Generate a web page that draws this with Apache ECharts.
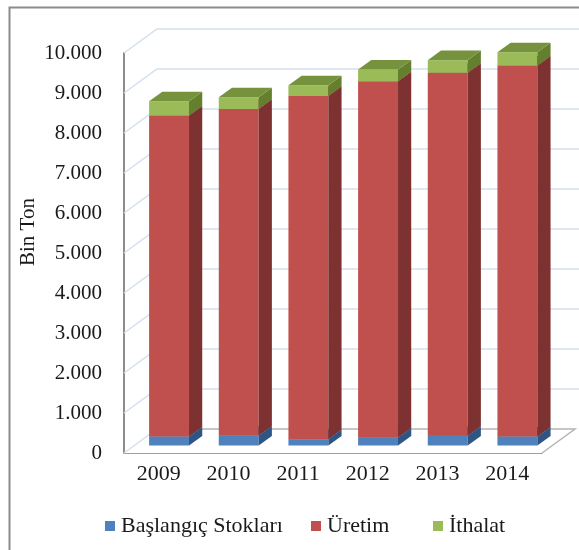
<!DOCTYPE html>
<html>
<head>
<meta charset="utf-8">
<script src="https://cdn.jsdelivr.net/npm/echarts@6/dist/echarts.min.js"></script>
<style>
  html, body { margin: 0; padding: 0; background: #fff; }
  #chart { width: 579px; height: 550px; }
</style>
</head>
<body>
<div id="chart"></div>
<script>
// data (bin ton)
var years = ['2009', '2010', '2011', '2012', '2013', '2014'];
var stoklar = [225, 250, 160, 200, 245, 225];
var uretim = [8025, 8165, 8580, 8905, 9075, 9275];
var ithalat = [355, 290, 265, 295, 315, 330];
var gridValues = [0, 1000, 2000, 3000, 4000, 5000, 6000, 7000, 8000, 9000, 10000];

var FONT = '"Liberation Serif", "Times New Roman", serif';
// depth of the 3d box, and where the bars sit inside it
var DX = 33, DY = -24;
var F0 = 0.31, F1 = 0.71;

// stacked [cat, low, high] rows
function stackRows(vals, under) {
  return vals.map(function (v, i) {
    var lo = 0;
    under.forEach(function (u) { lo += u[i]; });
    return [i, lo, lo + v];
  });
}

function barRenderer(front, side, top) {
  return function (params, api) {
    var i = api.value(0);
    var p0 = api.coord([i, api.value(1)]);
    var p1 = api.coord([i, api.value(2)]);
    var w = api.size([1, 0])[0] * 0.573;
    var x0 = p0[0] - w / 2 + F0 * DX;
    var yb = p0[1] + F0 * DY;
    var yt = p1[1] + F0 * DY;
    var ddx = (F1 - F0) * DX, ddy = (F1 - F0) * DY;
    return {
      type: 'group',
      children: [
        { type: 'rect', shape: { x: x0, y: yt, width: w, height: yb - yt }, style: { fill: front } },
        { type: 'polygon', shape: { points: [[x0 + w, yb], [x0 + w, yt], [x0 + w + ddx, yt + ddy], [x0 + w + ddx, yb + ddy]] }, style: { fill: side } },
        { type: 'polygon', shape: { points: [[x0, yt], [x0 + w, yt], [x0 + w + ddx, yt + ddy], [x0 + ddx, yt + ddy]] }, style: { fill: top } }
      ]
    };
  };
}

function wallRenderer(params, api) {
  var cs = params.coordSys;
  var v = api.value(0);
  var y = api.coord([0, v])[1];
  var x = cs.x, xr = cs.x + cs.width;
  var kids = [];
  if (v === 0) {
    kids.push({ type: 'polygon', shape: { points: [[x, y], [xr, y], [xr + DX, y + DY], [x + DX, y + DY]] }, style: { fill: '#fff' } });
    kids.push({ type: 'polyline', shape: { points: [[x, y], [x + DX, y + DY]] }, style: { stroke: '#d3dfee', lineWidth: 1.5, fill: null } });
    kids.push({ type: 'polyline', shape: { points: [[x + DX, y + DY], [xr + DX, y + DY], [xr, y]] }, style: { stroke: '#b4b4b4', lineWidth: 1.5, fill: null } });
  } else {
    kids.push({ type: 'polyline', shape: { points: [[x, y], [x + DX, y + DY], [600, y + DY]] }, style: { stroke: '#d3dfee', lineWidth: 1.5, fill: null } });
  }
  return { type: 'group', children: kids };
}

var chart = echarts.init(document.getElementById('chart'));

function legendAt(name, left) {
  return {
    data: [name], left: left, top: 510, icon: 'rect', itemWidth: 10, itemHeight: 10,
    selectedMode: false,
    textStyle: { fontFamily: FONT, fontSize: 22, color: '#1a1a1a', padding: [0, 0, 0, 1] }
  };
}

chart.setOption({
  animation: false,
  backgroundColor: '#fff',
  grid: { left: 124, right: 37, top: 53, bottom: 97 },
  legend: [
    legendAt('Başlangıç Stokları', 100),
    legendAt('Üretim', 306),
    legendAt('İthalat', 428)
  ],
  graphic: [
    { type: 'rect', left: 7, top: 5, shape: { width: 620, height: 600 }, style: { fill: null, stroke: '#8c8c8c', lineWidth: 2 }, silent: true },
    { type: 'text', x: 28, y: 232, rotation: Math.PI / 2, style: { text: 'Bin Ton', font: '21px ' + FONT, fill: '#1a1a1a', align: 'center', verticalAlign: 'middle' } }
  ],
  xAxis: {
    type: 'category',
    data: years,
    axisTick: { show: false },
    axisLine: { lineStyle: { color: '#a0a0a0', width: 2 } },
    axisLabel: { fontFamily: FONT, fontSize: 22, color: '#1a1a1a', margin: 10 }
  },
  yAxis: {
    type: 'value',
    min: 0, max: 10000, interval: 1000,
    splitLine: { show: false },
    axisTick: { show: false },
    axisLine: { show: true, lineStyle: { color: '#8c8c8c', width: 2 } },
    axisLabel: {
      fontFamily: FONT, fontSize: 21, color: '#1a1a1a', margin: 22,
      formatter: function (v) { return String(v).replace(/\B(?=(\d{3})+(?!\d))/g, '.'); }
    }
  },
  series: [
    {
      type: 'custom', name: 'wall', silent: true, z: 1,
      renderItem: wallRenderer,
      data: gridValues.map(function (v) { return [v]; }),
      encode: { y: 0 }
    },
    {
      type: 'custom', name: 'Başlangıç Stokları', z: 2,
      itemStyle: { color: '#4f81bd' },
      renderItem: barRenderer('#4f81bd', '#2f5585', '#3d6aa0'),
      data: stackRows(stoklar, []),
      encode: { x: 0, y: [1, 2] }
    },
    {
      type: 'custom', name: 'Üretim', z: 2,
      itemStyle: { color: '#c0504d' },
      renderItem: barRenderer('#c0504d', '#7d3130', '#9c3f3d'),
      data: stackRows(uretim, [stoklar]),
      encode: { x: 0, y: [1, 2] }
    },
    {
      type: 'custom', name: 'İthalat', z: 2,
      itemStyle: { color: '#9bbb59' },
      renderItem: barRenderer('#9bbb59', '#64802f', '#76923c'),
      data: stackRows(ithalat, [stoklar, uretim]),
      encode: { x: 0, y: [1, 2] }
    }
  ]
});
</script>
</body>
</html>
